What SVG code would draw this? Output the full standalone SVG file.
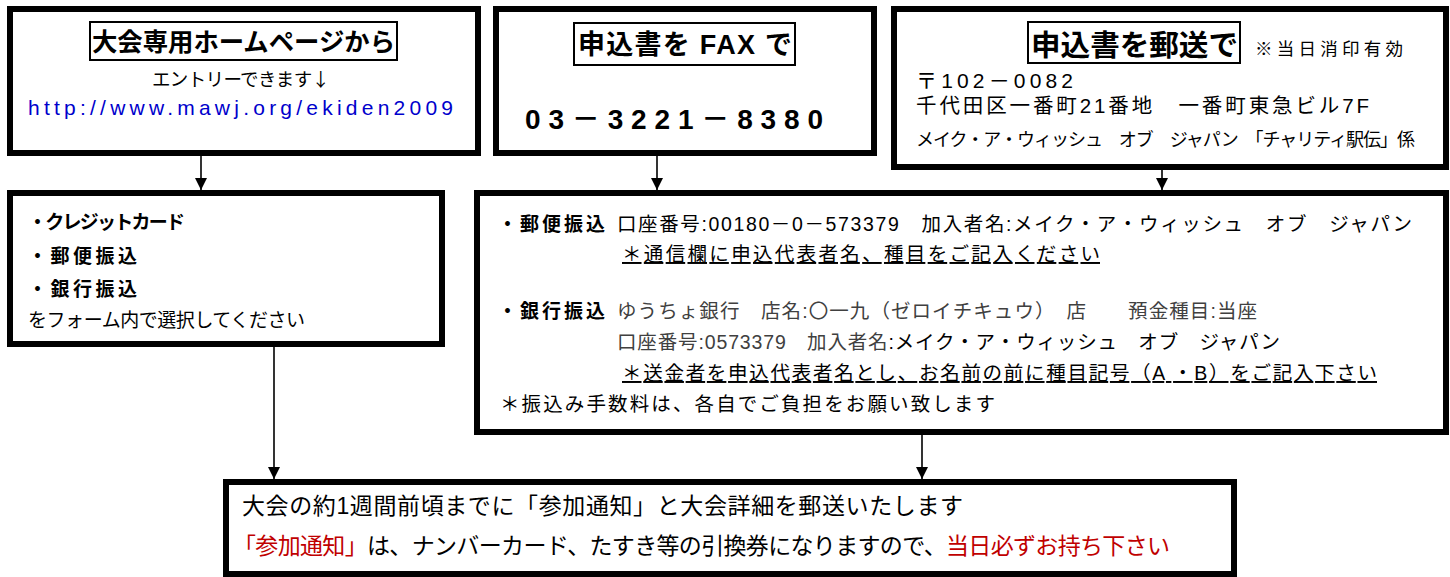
<svg xmlns="http://www.w3.org/2000/svg" width="1450" height="577" viewBox="0 0 1450 577">
<style>
  text { font-family: "Liberation Sans", "Noto Sans CJK JP", sans-serif; fill: #000; }
  .jp { font-family: "Noto Sans CJK JP", "Liberation Sans", sans-serif; }
  .box { fill: #fff; stroke: #000; stroke-width: 6; }
  .tbox { fill: #fff; stroke: #000; stroke-width: 2; }
  .title { font-weight: bold; }
  .b { font-weight: bold; }
  .gray { fill: #404040; }
  .red { fill: #C00000; }
  .ul { text-decoration: underline; }
  .conn { stroke: #000; stroke-width: 1.6; fill: none; marker-end: url(#ah); }
</style>
<defs>
  <marker id="ah" viewBox="0 0 12 12" refX="12" refY="6" markerWidth="12" markerHeight="12" orient="auto" markerUnits="userSpaceOnUse">
    <path d="M0,0 L12,6 L0,12 z" fill="#000"/>
  </marker>
</defs>
<rect width="1450" height="577" fill="#fff"/>

<g id="connectors">
  <line class="conn" x1="201" y1="156" x2="201" y2="190"/>
  <line class="conn" x1="657" y1="156" x2="657" y2="190"/>
  <line class="conn" x1="1162" y1="170" x2="1162" y2="190"/>
  <line class="conn" x1="274" y1="337" x2="274" y2="479"/>
  <line class="conn" x1="922" y1="435" x2="922" y2="479"/>
</g>

<g id="node-homepage">
  <rect class="box" x="10" y="9" width="468" height="144"/>
  <rect class="tbox" x="90" y="22" width="307" height="38"/>
  <text class="title" x="92" y="51" font-size="25" textLength="303" lengthAdjust="spacingAndGlyphs">大会専用ホームページから</text>
  <text class="jp" x="152" y="86" font-size="18.5" textLength="178" lengthAdjust="spacing">エントリーできます↓</text>
  <text x="28" y="115" font-size="21" style="fill:#0000CC" textLength="425" lengthAdjust="spacing">http://www.mawj.org/ekiden2009</text>
</g>

<g id="node-fax">
  <rect class="box" x="496" y="9" width="378" height="144"/>
  <rect class="tbox" x="574" y="23" width="221" height="42"/>
  <text class="title" x="578" y="54" font-size="27" textLength="214" lengthAdjust="spacing">申込書を FAX で</text>
  <text class="b" x="525" y="129" font-size="28" textLength="298" lengthAdjust="spacing">03－3221－8380</text>
</g>

<g id="node-mail">
  <rect class="box" x="894" y="9" width="552" height="158"/>
  <rect class="tbox" x="1028" y="22" width="212" height="41"/>
  <text class="title" x="1031" y="56" font-size="29" textLength="207" lengthAdjust="spacingAndGlyphs">申込書を郵送で</text>
  <text x="1255" y="55" font-size="17.5" textLength="148" lengthAdjust="spacing">※当日消印有効</text>
  <text x="916" y="88" font-size="21" textLength="157" lengthAdjust="spacing">〒102－0082</text>
  <text x="916" y="113" font-size="20.5" textLength="453" lengthAdjust="spacing">千代田区一番町21番地　一番町東急ビル7F</text>
  <text x="916" y="146" font-size="18" textLength="499" lengthAdjust="spacing">メイク・ア・ウィッシュ　オブ　ジャパン　「チャリティ駅伝」係</text>
</g>

<g id="node-form">
  <rect class="box" x="10" y="193" width="432" height="151"/>
  <text class="b" x="28" y="229" font-size="19" textLength="157" lengthAdjust="spacing">・クレジットカード</text>
  <text class="b" x="28" y="263" font-size="19" textLength="109" lengthAdjust="spacing">・郵便振込</text>
  <text class="b" x="28" y="296" font-size="19" textLength="109" lengthAdjust="spacing">・銀行振込</text>
  <text x="28" y="327" font-size="19" textLength="277" lengthAdjust="spacing">をフォーム内で選択してください</text>
</g>

<g id="node-transfer">
  <rect class="box" x="477" y="193" width="969" height="239"/>
  <text class="b" x="498" y="231" font-size="19" textLength="107" lengthAdjust="spacing">・郵便振込</text>
  <text x="617" y="231" font-size="19.5" textLength="795" lengthAdjust="spacing">口座番号:00180－0－573379　加入者名:メイク・ア・ウィッシュ　オブ　ジャパン</text>
  <text class="ul" x="622" y="261" font-size="19.5" textLength="478" lengthAdjust="spacing">＊通信欄に申込代表者名、種目をご記入ください</text>
  <text class="b" x="498" y="318" font-size="19" textLength="107" lengthAdjust="spacing">・銀行振込</text>
  <text class="gray" x="617" y="318" font-size="19.5" textLength="640" lengthAdjust="spacing">ゆうちょ銀行　店名:〇一九（ゼロイチキュウ）　店　　預金種目:当座</text>
  <text x="617" y="349" font-size="19.5" textLength="663" lengthAdjust="spacing"><tspan class="gray">口座番号:0573379　加入者名</tspan>:メイク・ア・ウィッシュ　オブ　ジャパン</text>
  <text class="ul" x="622" y="380" font-size="19.5" textLength="755" lengthAdjust="spacing">＊送金者を申込代表者名とし、お名前の前に種目記号（A ・B）をご記入下さい</text>
  <text x="500" y="411" font-size="19.5" textLength="495" lengthAdjust="spacing">＊振込み手数料は、各自でご負担をお願い致します</text>
</g>

<g id="node-notice">
  <rect class="box" x="226" y="482" width="1008" height="92"/>
  <text x="242" y="514" font-size="23" textLength="721" lengthAdjust="spacing">大会の約1週間前頃までに「参加通知」と大会詳細を郵送いたします</text>
  <text x="233" y="554" font-size="23" textLength="937" lengthAdjust="spacing"><tspan class="red">「参加通知」</tspan>は、ナンバーカード、たすき等の引換券になりますので、<tspan class="red">当日必ずお持ち下さい</tspan></text>
</g>
</svg>
